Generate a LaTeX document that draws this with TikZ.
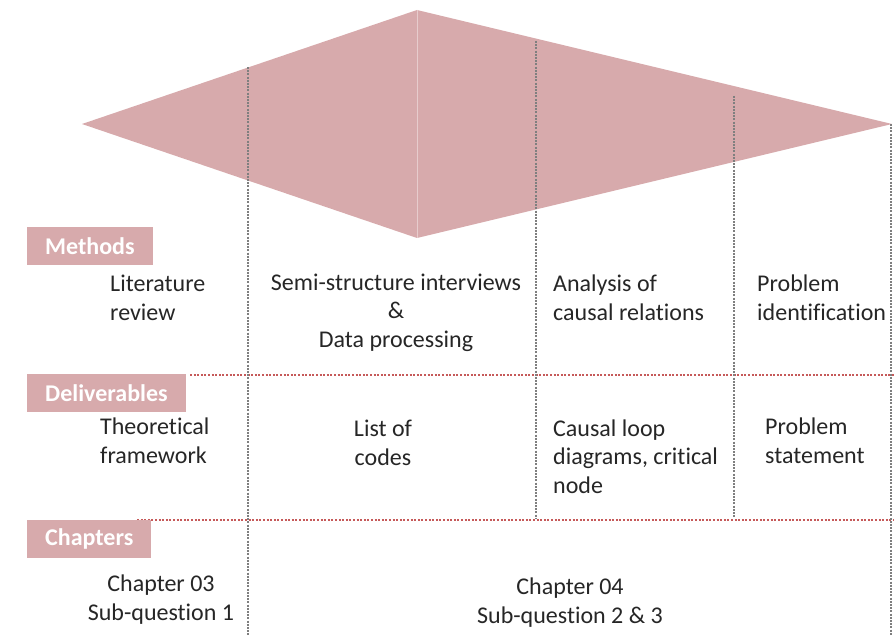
\documentclass[tikz,border=0pt]{standalone}
\usepackage{fontspec}
\setmainfont[Ligatures=NoCommon]{Carlito}
\usetikzlibrary{positioning}
\definecolor{rosa}{HTML}{D7AAAC}
\definecolor{texto}{HTML}{262626}
\definecolor{grade}{HTML}{7F7F7F}
\definecolor{linha}{HTML}{C65A5A}

\begin{document}
\begin{tikzpicture}[
    x=1pt, y=-1pt,
    font=\fontsize{24}{28.5}\selectfont,
    rotulo/.style={fill=rosa, text=white, font=\fontsize{24}{28}\selectfont\bfseries, inner xsep=18pt, minimum height=38pt, anchor=north west},
    celula/.style={inner sep=0pt, align=left, anchor=base west, text=texto},
    centro/.style={inner sep=0pt, align=center, anchor=base, text=texto},
    coluna/.style={grade, line width=2pt, dash pattern=on 2pt off 1.2pt},
    faixa/.style={linha, line width=1.6pt, dash pattern=on 2pt off 1.6pt}
  ]
  \useasboundingbox (0,0) rectangle (894,636);

  % --- LOSANGO ---
  \coordinate (esq) at (82,124);
  \coordinate (topo) at (417,10);
  \coordinate (base) at (417,238);
  \coordinate (dir) at (892,124);
  \fill[rosa] (esq) -- (topo) -- (dir) -- (base) -- cycle;
  \draw[rosa!60!white, line width=0.6pt] (topo) -- (base);

  % --- FAIXAS (linhas vermelhas) ---
  \coordinate (f1a) at (190,375);
  \coordinate (f1b) at (894,375);
  \coordinate (f2a) at (137,520);
  \coordinate (f2b) at (894,520);
  \draw[faixa] (f1a) -- (f1b);
  \draw[faixa] (f2a) -- (f2b);

  % --- COLUNAS (linhas cinzas) ---
  \coordinate (c1a) at (248,67);  \coordinate (c1b) at (248,636);
  \coordinate (c2a) at (536,41);  \coordinate (c2b) at (536,518);
  \coordinate (c3a) at (734,96);  \coordinate (c3b) at (734,518);
  \coordinate (c4a) at (891,124); \coordinate (c4b) at (891,636);
  \draw[coluna] (c1a) -- (c1b);
  \draw[coluna] (c2a) -- (c2b);
  \draw[coluna] (c3a) -- (c3b);
  \draw[coluna] (c4a) -- (c4b);

  % --- ROTULOS ---
  \node[rotulo] (metodos) at (27,227) {Methods};
  \node[rotulo] (entregas) at (27,374) {Deliverables};
  \node[rotulo] (capitulos) at (27,520) {Chapters};

  % --- METODOS (ancora na ultima linha) ---
  \node[celula] (lit) at (110,320) {Literature\\review};
  \node[centro] (entrev) at (396,347) {Semi-structure interviews\\\&\\Data processing};
  \node[celula] (analise) at (553,320) {Analysis of\\causal relations};
  \node[celula] (probid) at (757,320) {Problem\\identification};

  % --- ENTREGAS ---
  \node[celula] (teoria) at (100,463) {Theoretical\\framework};
  \node[centro] (codigos) at (383,465) {List of\\codes};
  \node[celula] (laco) at (553,493) {Causal loop\\diagrams, critical\\node};
  \node[celula] (probst) at (765,463) {Problem\\statement};

  % --- CAPITULOS ---
  \node[centro] (cap3) at (161,620) {Chapter 03\\Sub-question 1};
  \node[centro] (cap4) at (570,623) {Chapter 04\\Sub-question 2 \& 3};

\end{tikzpicture}
\end{document}
